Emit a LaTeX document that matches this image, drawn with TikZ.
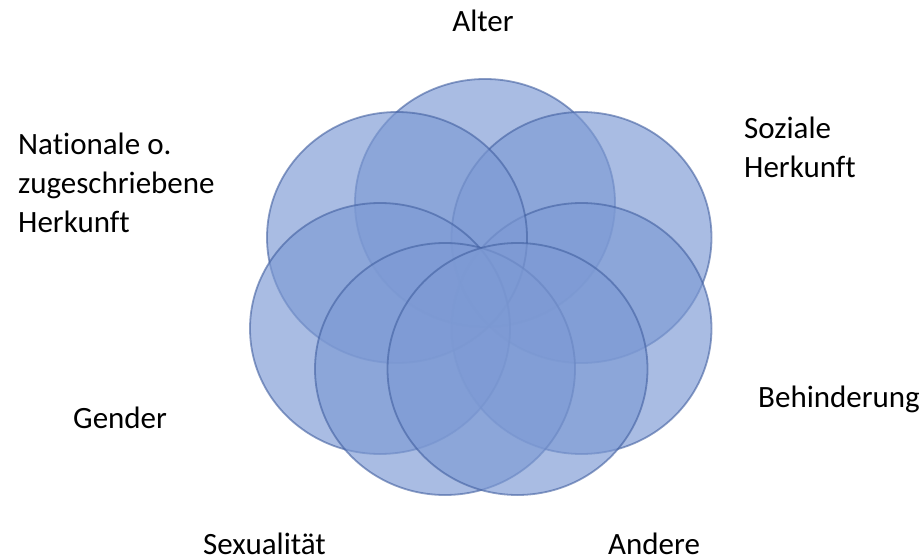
\documentclass[tikz,border=0pt]{standalone}
\usepackage{fontspec}
\setmainfont{Carlito}[Ligatures=NoCommon]
\definecolor{vfill}{RGB}{125,154,212}
\definecolor{vline}{RGB}{65,95,160}
\tikzset{
  venn/.style={fill=vfill, fill opacity=0.66, draw=vline, draw opacity=0.6, line width=1.8pt},
  lbl/.style={inner sep=0pt, font=\fontsize{31}{39}\selectfont, text=black, align=left}
}
\begin{document}
\begin{tikzpicture}[x=1pt,y=-1pt]
\useasboundingbox (0,0) rectangle (924,559);
% circles (order of drawing)
\draw[venn] (485,203) ellipse [x radius=130pt, y radius=124pt];   % Alter
\draw[venn] (581.5,237.5) ellipse [x radius=130pt, y radius=125.5pt]; % Soziale Herkunft
\draw[venn] (581.5,328.5) ellipse [x radius=130pt, y radius=125.5pt]; % Behinderung
\draw[venn] (397,237.5) ellipse [x radius=130pt, y radius=125.5pt]; % Nationale
\draw[venn] (380,328.5) ellipse [x radius=130pt, y radius=125.5pt]; % Gender
\draw[venn] (445,369) ellipse [x radius=130pt, y radius=126pt]; % Sexualitaet
\draw[venn] (517.5,369) ellipse [x radius=130pt, y radius=126pt]; % Andere
% labels (base anchor = baseline of last line)
\node[lbl, anchor=base] (alter) at (483,32) {Alter};
\node[lbl, anchor=base west] (national) at (18,232) {Nationale o.\\zugeschriebene\\Herkunft};
\node[lbl, anchor=base west] (sozial) at (744,178) {Soziale\\Herkunft};
\node[lbl, anchor=base west] (behind) at (758,407) {Behinderung};
\node[lbl, anchor=base west] (gender) at (73,428) {Gender};
\node[lbl, anchor=base west] (sex) at (203,554) {Sexualität};
\node[lbl, anchor=base west] (andere) at (608,554) {Andere};
\end{tikzpicture}
\end{document}
